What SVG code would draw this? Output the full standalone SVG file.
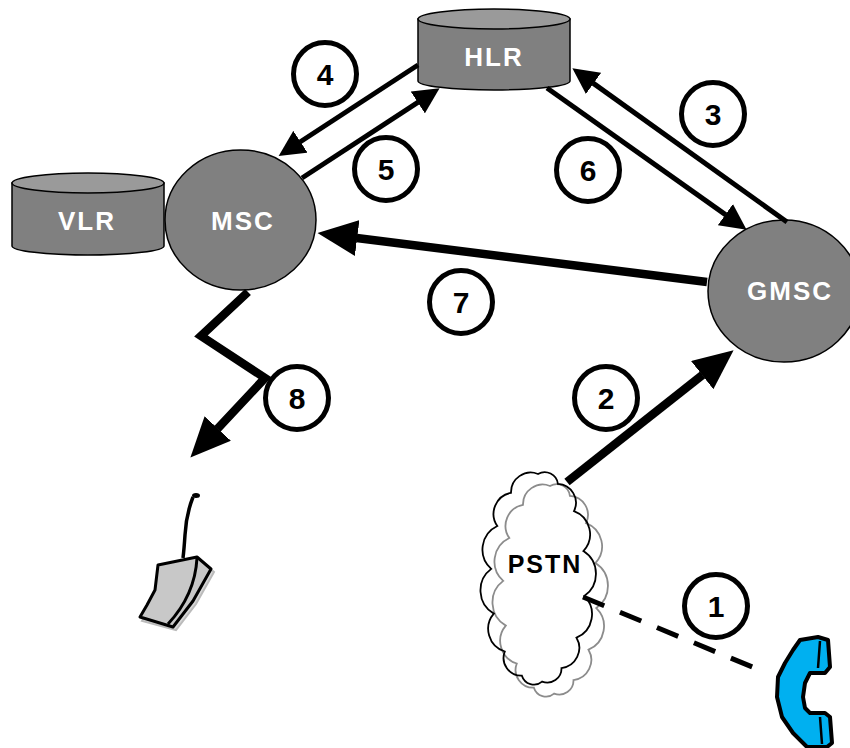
<svg xmlns="http://www.w3.org/2000/svg" width="850" height="748" viewBox="0 0 850 748">
  <style>
    .db { fill: #808080; stroke: #000; stroke-width: 1.5; }
    .dbtop { fill: #9a9a9a; stroke: #000; stroke-width: 1.5; }
    .nodelbl { font-family: "Liberation Sans", Arial, sans-serif; font-weight: bold; font-size: 26px; fill: #fff; text-anchor: middle; letter-spacing: 2px; }
    .num { fill: #fff; stroke: #000; stroke-width: 5; }
    .numtxt { font-family: "Liberation Sans", Arial, sans-serif; font-weight: bold; font-size: 30px; fill: #000; text-anchor: middle; }
    .thin { fill: none; stroke: #000; stroke-width: 5; marker-end: url(#ah); }
    .thick { fill: none; stroke: #000; stroke-width: 8.5; marker-end: url(#ahb); }
  </style>
  <defs>
    <marker id="ah" viewBox="0 -13 26 26" refX="0.5" refY="0" markerWidth="26" markerHeight="26" markerUnits="userSpaceOnUse" orient="auto">
      <path d="M0,-13 L26,0 L0,13 z" fill="#000"/>
    </marker>
    <marker id="ahb" viewBox="0 -18 40 36" refX="0.5" refY="0" markerWidth="40" markerHeight="36" markerUnits="userSpaceOnUse" orient="auto">
      <path d="M0,-18 L40,0 L0,18 z" fill="#000"/>
    </marker>
    <path id="cloud" d="M538,474 A13.3,13.3 0 0 1 557.9,483.8 A19,19 0 0 1 574,511.1 A24.7,24.7 0 0 1 583.4,551.1 A27,27 0 0 1 584.3,596.1 A25.4,25.4 0 0 1 576.5,637.7 A20.3,20.3 0 0 1 561.5,668.1 A14.2,14.2 0 0 1 542.1,681.6 A12.6,12.6 0 0 1 521.9,675.7 A17.8,17.8 0 0 1 504.8,651.5 A23.7,23.7 0 0 1 493.8,613.6 A26.9,26.9 0 0 1 491.2,568.9 A26,26 0 0 1 497.3,526 A21.5,21.5 0 0 1 511,492.8 A19.7,19.7 0 0 1 538,474 Z"/>
  </defs>
  <rect width="850" height="748" fill="#fff"/>

  <g id="VLR">
    <path class="db" d="M12,183 L12,246 A76,9 0 0 0 164,246 L164,183 Z"/>
    <ellipse class="dbtop" cx="88" cy="183" rx="76" ry="10"/>
    <text class="nodelbl" x="87" y="230">VLR</text>
  </g>

  <g id="HLR">
    <path class="db" d="M418,19 L418,81 A76,9 0 0 0 570,81 L570,19 Z"/>
    <ellipse class="dbtop" cx="494" cy="19" rx="76" ry="10"/>
    <text class="nodelbl" x="494" y="66">HLR</text>
  </g>

  <g id="MSC">
    <ellipse class="db" cx="240.5" cy="220" rx="75.5" ry="70"/>
    <text class="nodelbl" x="243" y="230">MSC</text>
  </g>

  <g id="GMSC">
    <ellipse class="db" cx="784" cy="291" rx="76" ry="71"/>
    <text class="nodelbl" x="790" y="300">GMSC</text>
  </g>

  <g id="PSTN">
    <use href="#cloud" transform="translate(12,12)" fill="#fff" stroke="#8c8c8c" stroke-width="1.8"/>
    <use href="#cloud" fill="none" stroke="#000" stroke-width="1.8"/>
    <text x="545" y="573" font-family="Liberation Sans, Arial, sans-serif" font-weight="bold" font-size="25" fill="#000" text-anchor="middle" letter-spacing="2">PSTN</text>
  </g>

  <g id="mobile">
    <path d="M161,569 L200,560 L214,572 L196,604 L176,630 L142,621 L150,608 L158,592 Z" fill="#d8d8d8" stroke="#bbb" stroke-width="2"/>
    <path d="M158,565 L197,557 L211,569 L193,601 L173,627 L140,617 L147,605 L155,590 Z" fill="#c8c8c8" stroke="#000" stroke-width="3" stroke-linejoin="round"/>
    <path d="M197,558 Q195,595 168,624" fill="none" stroke="#000" stroke-width="3"/>
    <path d="M193,497 Q186,515 185,535 Q184,550 183,558" fill="none" stroke="#000" stroke-width="3.5"/>
    <ellipse cx="196" cy="495.5" rx="4" ry="2.5" fill="#000"/>
  </g>

  <g id="phone">
    <path d="M800,640 L818,637 L828,640 L830,667 L825,673 L810,673 L805,683 L803,697 L805,708 L810,713 L825,713 L830,717 L832,743 L827,747 L807,747 L793,733 L782,717 L777,697 L778,677 L785,663 L793,650 Z" fill="#00B0F0" stroke="#000" stroke-width="4" stroke-linejoin="round"/>
    <path d="M820,641 L818,668 M820,717 L822,744" fill="none" stroke="#000" stroke-width="2.5"/>
  </g>

  <g id="connectors">
    <line class="thin" x1="418" y1="65" x2="300" y2="142"/>
    <line class="thin" x1="302" y1="178" x2="418.2" y2="102.2"/>
    <line class="thin" x1="787" y1="222" x2="593.1" y2="83.1"/>
    <line class="thin" x1="547" y1="88" x2="725.8" y2="214.9"/>
    <line class="thick" x1="707" y1="282" x2="356.7" y2="238"/>
    <line class="thick" x1="567" y1="482" x2="702.6" y2="374.8"/>
    <polyline class="thick" points="248,292 201,336 265,378 217.4,428.8" stroke-linejoin="miter"/>
    <line x1="583" y1="597" x2="767" y2="673" stroke="#000" stroke-width="5" stroke-dasharray="23 17"/>
  </g>

  <g id="steps">
    <g id="step1"><circle class="num" cx="716" cy="606" r="31.5"/><text class="numtxt" x="716" y="617">1</text></g>
    <g id="step2"><circle class="num" cx="606" cy="398" r="31.5"/><text class="numtxt" x="606" y="409">2</text></g>
    <g id="step3"><circle class="num" cx="713" cy="114" r="31.5"/><text class="numtxt" x="713" y="125">3</text></g>
    <g id="step4"><circle class="num" cx="325" cy="74" r="31.5"/><text class="numtxt" x="325" y="85">4</text></g>
    <g id="step5"><circle class="num" cx="386" cy="169" r="31.5"/><text class="numtxt" x="386" y="180">5</text></g>
    <g id="step6"><circle class="num" cx="588" cy="170" r="31.5"/><text class="numtxt" x="588" y="181">6</text></g>
    <g id="step7"><circle class="num" cx="461" cy="302" r="31.5"/><text class="numtxt" x="461" y="313">7</text></g>
    <g id="step8"><circle class="num" cx="297" cy="398" r="31.5"/><text class="numtxt" x="297" y="409">8</text></g>
  </g>
</svg>
